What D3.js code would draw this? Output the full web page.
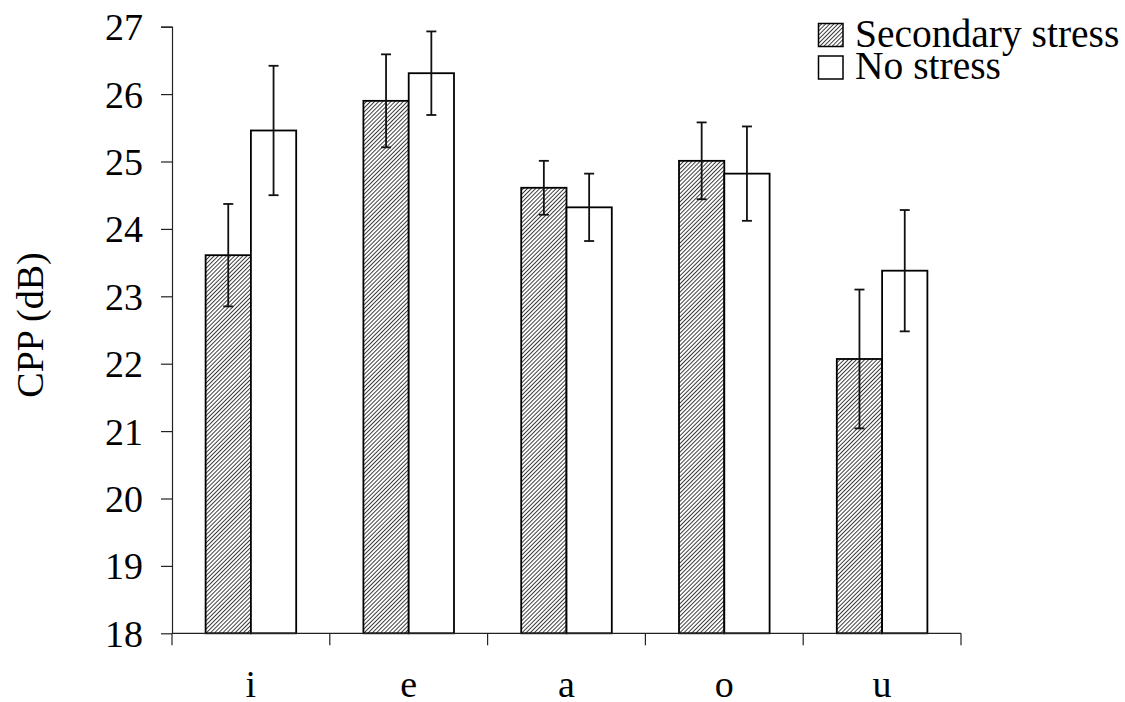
<!DOCTYPE html>
<html>
<head>
<meta charset="utf-8">
<script src="https://cdn.jsdelivr.net/npm/d3@7"></script>
<style>
  html, body { margin: 0; padding: 0; background: #fff; }
  svg { display: block; }
</style>
</head>
<body>
<script>
const categories = ["i", "e", "a", "o", "u"];
const seriesNames = ["Secondary stress", "No stress"];
const secondaryValues = [23.61, 25.90, 24.61, 25.01, 22.07];
const secondaryErrors = [0.76, 0.69, 0.40, 0.57, 1.03];
const noStressValues = [25.46, 26.31, 24.32, 24.82, 23.38];
const noStressErrors = [0.96, 0.62, 0.50, 0.70, 0.90];
const yTicks = [18, 19, 20, 21, 22, 23, 24, 25, 26, 27];

const FONT = '"Liberation Serif", "Times New Roman", serif';
const W = 1125, H = 702;
const margin = { left: 172, right: 164, top: 26.7, bottom: 68.7 };
const innerW = W - margin.left - margin.right;
const innerH = H - margin.top - margin.bottom;

const svg = d3.select("body").append("svg").attr("width", W).attr("height", H);

const P = 2.9;
const defs = svg.append("defs");
const pat = defs.append("pattern")
  .attr("id", "hatch").attr("patternUnits", "userSpaceOnUse")
  .attr("width", P).attr("height", P)
  .attr("patternTransform", "rotate(45)");
pat.append("rect").attr("width", P).attr("height", P).attr("fill", "#fff");
pat.append("line").attr("x1", 0).attr("y1", 0).attr("x2", 0).attr("y2", P)
  .attr("stroke", "#000").attr("stroke-width", 1.5);

const g = svg.append("g").attr("transform", `translate(${margin.left},${margin.top})`);

const x0 = d3.scaleBand().domain(categories).range([0, innerW]).paddingInner(0).paddingOuter(0);
const x1 = d3.scaleBand().domain(seriesNames).range([0, x0.bandwidth()]).paddingInner(0).paddingOuter(0.742);
const y = d3.scaleLinear().domain([18, 27]).range([innerH, 0]);

const fills = ["url(#hatch)", "#fff"];
const data = categories.map((c, i) => ({
  cat: c,
  vals: [
    { s: seriesNames[0], v: secondaryValues[i], e: secondaryErrors[i] },
    { s: seriesNames[1], v: noStressValues[i], e: noStressErrors[i] }
  ]
}));

// Bars
const groups = g.selectAll(".grp").data(data).enter().append("g")
  .attr("transform", d => `translate(${x0(d.cat)},0)`);
groups.selectAll("rect").data(d => d.vals).enter().append("rect")
  .attr("x", d => x1(d.s))
  .attr("y", d => y(d.v))
  .attr("width", x1.bandwidth())
  .attr("height", d => y(18) - y(d.v))
  .attr("fill", (d, i) => fills[i])
  .attr("stroke", "#000").attr("stroke-width", 1.8);

// Error bars
const cap = 5;
groups.each(function(d) {
  const gg = d3.select(this);
  d.vals.forEach(p => {
    const cx = x1(p.s) + x1.bandwidth() / 2;
    const eg = gg.append("g").attr("stroke", "#111").attr("stroke-width", 1.8);
    eg.append("line").attr("x1", cx).attr("x2", cx).attr("y1", y(p.v + p.e)).attr("y2", y(p.v - p.e));
    eg.append("line").attr("x1", cx - cap).attr("x2", cx + cap).attr("y1", y(p.v + p.e)).attr("y2", y(p.v + p.e));
    eg.append("line").attr("x1", cx - cap).attr("x2", cx + cap).attr("y1", y(p.v - p.e)).attr("y2", y(p.v - p.e));
  });
});

// Y axis
const yAxis = g.append("g").call(d3.axisLeft(y).tickValues(yTicks).tickFormat(d3.format("d")).tickSize(11).tickPadding(18));
yAxis.selectAll("path, line").attr("stroke", "#222").attr("stroke-width", 1.2);
yAxis.select(".domain").attr("d", `M-11,0.5H0.5V${innerH}`);
yAxis.selectAll("text").style("font-size", "38px").style("font-family", FONT).style("fill", "#000").attr("dy", "0.34em");

// X axis
const xAxis = g.append("g").attr("transform", `translate(0,${innerH})`)
  .call(d3.axisBottom(x0).tickSize(0).tickPadding(0));
xAxis.select(".domain").attr("stroke", "#222").attr("stroke-width", 1.2).attr("d", `M0,0H${innerW}`);
xAxis.selectAll("text").style("font-size", "38px").style("font-family", FONT).style("fill", "#000")
  .attr("y", 64).attr("dy", 0);
const boundaries = d3.range(categories.length + 1);
xAxis.selectAll(".bt").data(boundaries).enter().append("line")
  .attr("x1", i => i * x0.step()).attr("x2", i => i * x0.step())
  .attr("y1", 0).attr("y2", 12)
  .attr("stroke", "#222").attr("stroke-width", 1.2);

// Y label
svg.append("text")
  .attr("transform", `translate(43,${325}) rotate(-90)`)
  .attr("text-anchor", "middle")
  .style("font-size", "38px").style("font-family", FONT).style("fill", "#000")
  .text("CPP (dB)");

// Legend
const legend = svg.append("g");
const legendY = [23.5, 56];
seriesNames.forEach((s, i) => {
  legend.append("rect")
    .attr("x", 818.5).attr("y", legendY[i])
    .attr("width", 24.5).attr("height", 23)
    .attr("fill", fills[i]).attr("stroke", "#000").attr("stroke-width", 1.5);
  legend.append("text")
    .attr("x", 855).attr("y", legendY[i] + 23)
    .style("font-size", "39.5px").style("font-family", FONT).style("fill", "#000")
    .text(s);
});
</script>
</body>
</html>
